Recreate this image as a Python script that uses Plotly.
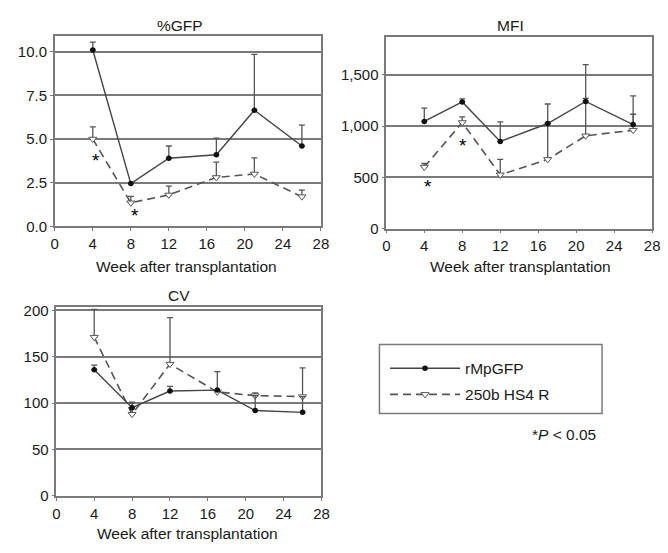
import plotly.graph_objects as go

weeks = [4, 8, 12, 17, 21, 26]

gfp_r = [10.1, 2.45, 3.9, 4.1, 6.65, 4.6]
gfp_r_up = [10.55, 2.45, 4.6, 5.05, 9.85, 5.8]
gfp_h = [5.0, 1.35, 1.8, 2.8, 3.0, 1.7]
gfp_h_up = [5.7, 1.72, 2.3, 3.68, 3.92, 2.08]

mfi_r = [1045, 1235, 850, 1025, 1240, 1015]
mfi_r_up = [1175, 1265, 1040, 1215, 1600, 1295]
mfi_h = [600, 1035, 525, 675, 905, 960]
mfi_h_up = [635, 1090, 675, 1025, 1270, 1115]

cv_r = [136, 95, 113, 114, 92, 90]
cv_r_up = [141, 100, 118, 114, 108, 107]
cv_h = [171, 88, 142, 112, 108, 107]
cv_h_up = [201, 101, 192, 134, 111, 138]

panels = [
    ("%GFP", gfp_r, gfp_r_up, gfp_h, gfp_h_up, [0, 10.9], [0, 2.5, 5, 7.5, 10], ".1f"),
    ("MFI", mfi_r, mfi_r_up, mfi_h, mfi_h_up, [0, 1873], [0, 500, 1000, 1500], ","),
    ("CV", cv_r, cv_r_up, cv_h, cv_h_up, [0, 203.5], [0, 50, 100, 150, 200], "d"),
]
stars = {1: [(4.3, 3.75), (8.4, 0.62)], 2: [(4.44, 410), (8.06, 815)]}

W, H = 668, 553
# pixel boxes: left, right, top, bottom
boxes = [(51.7, 322.7, 31.7, 226.7), (389.3, 660.0, 32.3, 229.0), (53.3, 323.3, 309.3, 502.7)]
title_pos = [(179.5, 21), (515.5, 21), (178, 297)]
xtitle_pos = [(186, 268), (526, 268), (187, 541)]

FONT = "Liberation Sans, Arial, sans-serif"
TXT = "#1a1a1a"
LINE = "#444444"
GRID = "#7a7a7a"

fig = go.Figure()
layout = dict(
    width=W, height=H, margin=dict(l=0, r=0, t=0, b=0),
    paper_bgcolor="white", plot_bgcolor="white",
    font=dict(family=FONT, size=15, color=TXT),
)
annotations = []

for i, (name, r, rup, h, hup, yr, ytv, fmt) in enumerate(panels):
    n = i + 1
    xa = "x" if n == 1 else f"x{n}"
    ya = "y" if n == 1 else f"y{n}"
    l, rr, t, b = boxes[i]
    layout[f"xaxis{'' if n == 1 else n}"] = dict(
        domain=[l / W, rr / W], range=[0, 28], tickvals=[0, 4, 8, 12, 16, 20, 24, 28],
        showgrid=False, zeroline=False, showline=True, linecolor=GRID, linewidth=1.5,
        mirror=True, ticks="outside", ticklen=3, tickcolor=GRID, anchor=ya,
        tickfont=dict(size=15, color=TXT, family=FONT),
    )
    layout[f"yaxis{'' if n == 1 else n}"] = dict(
        domain=[1 - b / H, 1 - t / H], range=yr, tickvals=ytv, tickformat=fmt,
        showgrid=True, gridcolor=GRID, gridwidth=2, zeroline=False,
        showline=True, linecolor=GRID, linewidth=1.5, mirror=True,
        ticks="outside", ticklen=3, tickcolor=GRID, anchor=xa,
        tickfont=dict(size=15, color=TXT, family=FONT),
    )
    fig.add_trace(go.Scatter(
        x=weeks, y=h, xaxis=xa, yaxis=ya, mode="lines+markers", name="250b HS4 R",
        showlegend=(n == 1), legendrank=2, legendgroup="h",
        line=dict(color="#555555", width=1.6, dash="8px,5px"),
        marker=dict(symbol="triangle-down", size=7, color="white",
                    line=dict(color="#555555", width=1)),
        error_y=dict(type="data", symmetric=False,
                     array=[u - v for u, v in zip(hup, h)], arrayminus=[0] * len(h),
                     color="#555555", thickness=1.3, width=3),
    ))
    fig.add_trace(go.Scatter(
        x=weeks, y=r, xaxis=xa, yaxis=ya, mode="lines+markers", name="rMpGFP",
        showlegend=(n == 1), legendrank=1, legendgroup="r",
        line=dict(color=LINE, width=1.4),
        marker=dict(symbol="circle", size=5.5, color="#111111"),
        error_y=dict(type="data", symmetric=False,
                     array=[u - v for u, v in zip(rup, r)], arrayminus=[0] * len(r),
                     color="#555555", thickness=1.3, width=3),
    ))
    tx, ty = title_pos[i]
    annotations.append(dict(text=name, x=tx / W, y=1 - ty / H, xref="paper", yref="paper",
                            showarrow=False, font=dict(size=15.5, color=TXT, family=FONT),
                            xanchor="center", yanchor="middle"))
    ax_, ay_ = xtitle_pos[i]
    annotations.append(dict(text="Week after transplantation", x=ax_ / W, y=1 - ay_ / H,
                            xref="paper", yref="paper", showarrow=False,
                            font=dict(size=15.5, color=TXT, family=FONT),
                            xanchor="center", yanchor="middle"))
    for (sx, sy) in stars.get(n, []):
        annotations.append(dict(text="*", x=sx, y=sy, xref=xa, yref=ya, showarrow=False,
                                font=dict(size=19, color="black", family=FONT)))

annotations.append(dict(text="*<i>P</i> &lt; 0.05", x=605 / W, y=1 - 440 / H,
                        xref="paper", yref="paper", showarrow=False, xanchor="right",
                        yanchor="middle", font=dict(size=15.5, color=TXT, family=FONT)))

layout["annotations"] = annotations
layout["shapes"] = [dict(type="rect", xref="paper", yref="paper",
                         x0=382.3 / W, x1=609 / W, y0=1 - 418.3 / H, y1=1 - 347.7 / H,
                         line=dict(color=GRID, width=1.5), fillcolor="rgba(0,0,0,0)")]
layout["showlegend"] = True
layout["legend"] = dict(
    x=388 / W, y=1 - 355 / H, xanchor="left", yanchor="top",
    borderwidth=0, bgcolor="rgba(0,0,0,0)",
    font=dict(size=15.5, color=TXT, family=FONT), itemwidth=70,
    tracegroupgap=3,
)
fig.update_layout(**layout)
fig.write_html("out.html")
